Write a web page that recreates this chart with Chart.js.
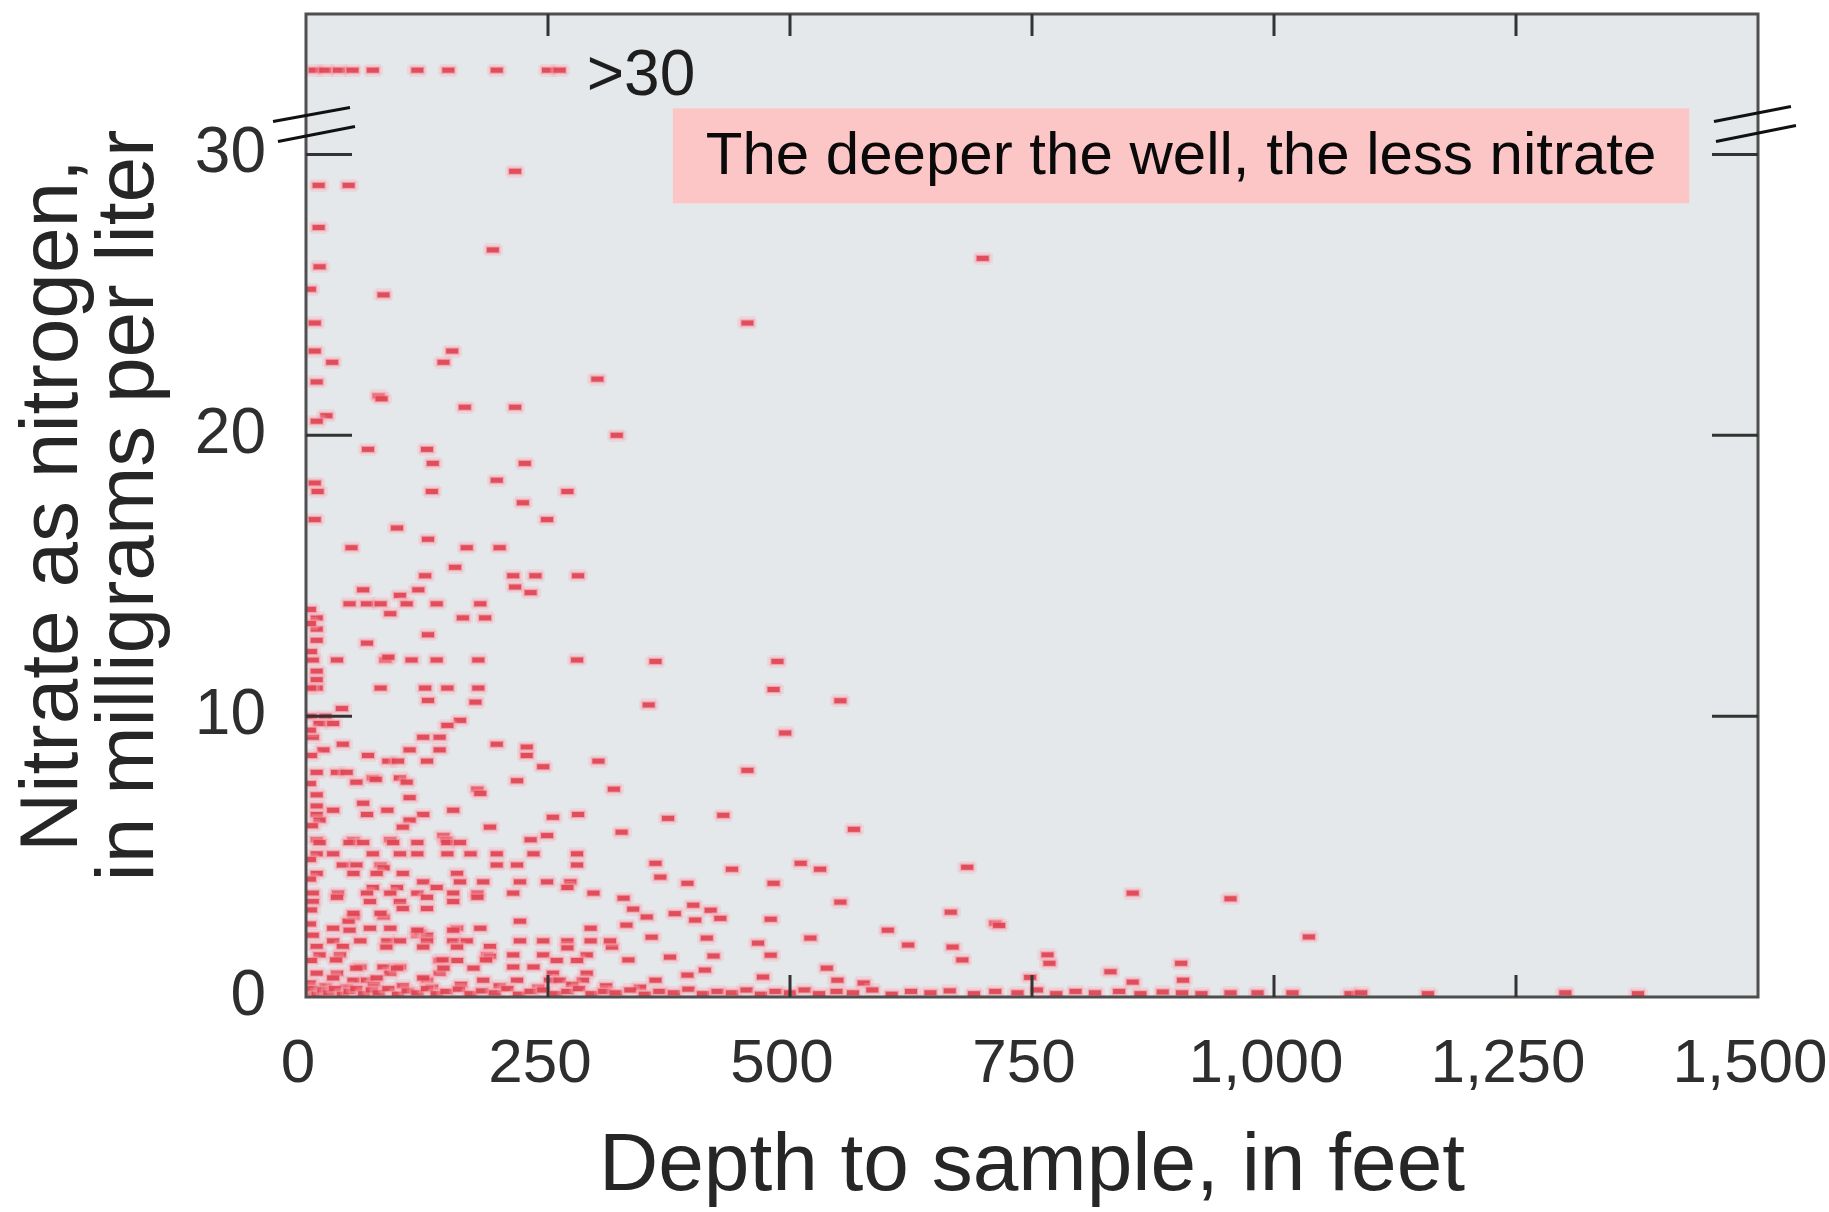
<!DOCTYPE html>
<html>
<head>
<meta charset="utf-8">
<script src="https://cdn.jsdelivr.net/npm/chart.js@4.4.1/dist/chart.umd.min.js"></script>
<style>
html,body{margin:0;padding:0;background:#ffffff;}
canvas{display:block;}
</style>
</head>
<body>
<canvas id="chart" width="1829" height="1212" style="width:1829px;height:1212px"></canvas>
<script>
// ---------- DATA ----------
const xTickValues = [0, 250, 500, 750, 1000, 1250, 1500];
const yTickValues = [0, 10, 20, 30];
const xTitle = 'Depth to sample, in feet';
const yTitle = ['Nitrate as nitrogen,', 'in milligrams per liter'];
const annotationText = 'The deeper the well, the less nitrate';
const over30Label = '>30';
const over30PlotValue = 33;           // where the ">30" samples are plotted
const axisBreakValue = 31.1;          // position of the axis break marks
// depths (ft) of wells with nitrate above 30 mg/L
const over30Depths = [9, 20, 34, 48, 69, 115, 147, 197, 250, 262];

// [depth ft, nitrate mg/L]
const upperWells = [
  [216,29.4],[13,28.9],[44,28.9],[13,27.4],[193,26.6],[14,26.0],[699,26.3],[80,25.0],[4,25.2],
  [9,24.0],[456,24.0],[9,23.0],[27,22.6],[151,23.0],[142,22.6],[301,22.0],[11,21.9],[75,21.4],
  [78,21.3],[164,21.0],[216,21.0],[21,20.7],[11,20.5],[321,20.0],[64,19.5],[125,19.5],[131,19.0],
  [226,19.0],[197,18.4],[9,18.3],[12,18.0],[130,18.0],[270,18.0],[224,17.6],[249,17.0],[9,17.0],
  [94,16.7],[126,16.3],[47,16.0],[166,16.0],[200,16.0],[154,15.3],[123,15.0],[214,15.0],[237,15.0],
  [281,15.0],[216,14.6],[59,14.5],[116,14.5],[232,14.4],[97,14.3]
];
const middleWells = [
  [45,14.0],[63,14.0],[77,14.0],[104,14.0],[135,14.0],[180,14.0],[87,13.65],[162,13.5],[185,13.5],
  [11,13.5],[11,13.1],[11,12.7],[126,12.9],[63,12.6],[7,12.0],[32,12.0],[82,12.0],[85,12.1],
  [109,12.0],[135,12.0],[178,12.0],[280,12.0],[11,11.6],[11,11.3],[11,11.0],[4,11.0],[77,11.0],
  [123,11.0],[146,11.0],[178,11.0],[126,10.56],[175,10.5],[37,10.27],[5,10.0],[20,10.0],[14,9.74],
  [28,9.74],[159,9.85],[146,9.67],[7,9.25],[121,9.25],[138,9.25],[197,9.0],[38,9.0],[18,8.8],
  [107,8.8],[138,8.8],[228,8.9],[228,8.6],[64,8.6],[85,8.4],[95,8.4],[125,8.4],[302,8.4],[245,8.2],
  [11,8.0],[32,8.0],[42,8.0],[69,7.8],[72,7.75],[97,7.8],[52,7.65],[104,7.65],[218,7.7],[177,7.4],
  [318,7.4],[180,7.25],[107,7.1],[59,6.9],[11,7.2],[11,6.8],[11,6.5],[152,6.65],[28,6.65],[84,6.65],
  [63,6.5],[121,6.5],[255,6.4],[281,6.5],[107,6.3],[14,6.3],[100,6.05],[190,6.05],[142,5.75],
  [145,5.6],[249,5.75],[232,5.6],[49,5.6],[87,5.6],[11,5.6],
  [4,13.8],[4,13.3],[5,12.3],[4,9.5],[5,8.6],[4,7.6],[6,6.1]
];
const deeperWells = [
  [361,11.95],[487,11.95],[483,10.95],[354,10.4],[552,10.55],[495,9.4],[456,8.07],[374,6.36],
  [431,6.47],[326,5.87],[566,5.97],[361,4.76],[366,4.27],[394,4.05],[440,4.55],[511,4.76],
  [531,4.55],[483,4.05],[683,4.62],[328,3.52],[338,3.13],[352,2.85],[331,2.56],[381,2.97],
  [400,3.27],[402,2.74],[418,3.09],[428,2.8],[480,2.77],[552,3.38],[666,3.02],[712,2.63],
  [716,2.55],[601,2.38],[521,2.1],[622,1.85],[668,1.78],[678,1.32],[316,1.78],[357,2.13],
  [414,2.1],[333,1.32],[376,1.42],[421,1.46],[467,1.92],[480,1.49],[394,0.78],[412,0.96],
  [538,1.03],[549,0.6],[472,0.71],[361,0.6],[576,0.5],
  [854,3.7],[955,3.5],[1036,2.14],[766,1.5],[768,1.2],[831,0.9],[904,1.2],[906,0.6],[854,0.53],[748,0.7]
];
const lowerWells = [
  [14,5.5],[45,5.5],[59,5.5],[90,5.5],[115,5.5],[146,5.5],[159,5.5],
  [11,5.1],[28,5.1],[69,5.1],[97,5.1],[115,5.1],[146,5.1],[170,5.1],[197,5.1],[235,5.1],[280,5.1],
  [38,4.7],[52,4.7],[77,4.7],[80,4.6],[197,4.7],[218,4.7],[280,4.7],
  [11,4.4],[49,4.4],[73,4.4],[100,4.4],[156,4.4],
  [121,4.1],[159,4.1],[183,4.1],[221,4.1],[249,4.1],[273,4.1],
  [69,3.9],[94,3.9],[135,3.9],[270,3.9],
  [7,3.7],[33,3.7],[63,3.7],[87,3.7],[115,3.7],[152,3.7],[177,3.7],[214,3.7],[297,3.7],
  [7,3.4],[66,3.4],[97,3.4],[152,3.4],[100,3.15],[125,3.15],[49,2.85],[80,2.85],[221,2.7],[44,2.7],
  [28,2.45],[66,2.45],[87,2.45],[156,2.45],[180,2.45],[294,2.45],
  [7,2.2],[115,2.2],[118,2.3],[125,2.2],
  [28,2.0],[56,2.0],[84,2.0],[97,2.0],[125,2.0],[152,2.0],[166,2.0],[221,2.0],[245,2.0],[270,2.0],[294,2.0],[314,2.0],
  [11,1.8],[38,1.8],[190,1.8],[270,1.75],
  [14,1.5],[35,1.5],[187,1.5],[190,1.45],[214,1.5],[245,1.5],[290,1.5],
  [138,1.3],[156,1.3],[259,1.3],[280,1.3],
  [56,1.07],[80,1.07],[97,1.07],[214,1.07],[235,1.07],
  [11,0.85],[32,0.85],[87,0.85],[138,0.85],[255,0.85],[290,0.85],
  [49,0.6],[63,0.6],[125,0.6],[183,0.6],[218,0.6],[252,0.6],[262,0.6],[286,0.6],
  [4,4.9],[4,4.2],[5,3.1],[4,2.6],[5,1.3],[4,0.5],
  [20,0.4],[42,0.35],[70,0.45],[100,0.4],[130,0.35],[160,0.45],[200,0.4],[240,0.35],[275,0.45],[310,0.4],[345,0.35]
];
const shallowCluster = [
  [32,3.55],[125,3.55],[177,3.55],[49,2.98],[77,2.98],[45,2.38],[115,2.38],[152,2.38],[83,1.78],
  [121,1.78],[156,1.78],[31,1.32],[141,1.32],[186,1.32],[52,1.03],[94,1.03],[142,1.03],[173,1.03],
  [28,0.68],[73,0.68],[121,0.68]
];
// samples with almost no nitrate, along the bottom of the plot
const nearZeroWells = [
  [2,0.15],[6,0.3],[12,0.1],[18,0.25],[24,0.15],[30,0.3],[38,0.1],[45,0.2],[52,0.3],[60,0.12],
  [68,0.25],[75,0.15],[85,0.3],[95,0.1],[105,0.22],[115,0.15],[125,0.3],[135,0.12],[145,0.2],
  [158,0.28],[170,0.12],[182,0.22],[195,0.15],[208,0.3],[220,0.1],[232,0.2],[245,0.25],[258,0.12],
  [270,0.2],[282,0.3],[295,0.12],[308,0.2],[320,0.15],[335,0.25],[350,0.1],[365,0.2],[380,0.15],
  [395,0.28],[410,0.12],[425,0.2],[440,0.15],[455,0.25],[470,0.1],[485,0.2],[500,0.15],[515,0.25],
  [530,0.12],[548,0.2],[565,0.15],[585,0.25],[605,0.1],[625,0.2],[645,0.15],[665,0.22],[690,0.12],
  [712,0.2],[735,0.15],[755,0.25],[775,0.12],[795,0.2],[815,0.15],[840,0.2],[862,0.12],[885,0.18],
  [905,0.15],[925,0.12],[955,0.15],[983,0.15],[1019,0.15],[1079,0.12],[1090,0.15],[1159,0.12],
  [1301,0.15],[1376,0.12]
];

// ---------- STYLE ----------
const FONT = '"Liberation Sans", Arial, Helvetica, sans-serif';
const PLOT_BG = '#e5e8ea';

function makeDash() {
  const c = document.createElement('canvas');
  c.width = 20; c.height = 13;
  const g = c.getContext('2d');
  g.fillStyle = 'rgba(248,170,178,0.28)';
  g.fillRect(2, 0, 16, 13);
  g.fillRect(0, 2, 20, 9);
  g.fillStyle = 'rgba(238,120,135,0.45)';
  g.fillRect(3, 3, 14, 7);
  g.fillStyle = 'rgba(222,58,72,0.82)';
  g.fillRect(4, 4, 12, 5);
  return c;
}
const dashMark = makeDash();

const toPoints = arr => arr.map(([x, y]) => ({x, y}));
const allWells = [].concat(upperWells, middleWells, deeperWells, lowerWells, shallowCluster, nearZeroWells);

const backgroundPlugin = {
  id: 'plotBackground',
  beforeDraw(chart) {
    const {ctx, chartArea: a} = chart;
    ctx.save();
    ctx.fillStyle = '#ffffff';
    ctx.fillRect(0, 0, chart.width, chart.height);
    ctx.fillStyle = PLOT_BG;
    ctx.fillRect(a.left, a.top, a.right - a.left, a.bottom - a.top);
    ctx.restore();
  }
};

function seg(ctx, x1, y1, x2, y2) {
  ctx.beginPath(); ctx.moveTo(x1, y1); ctx.lineTo(x2, y2); ctx.stroke();
}

const framePlugin = {
  id: 'frameAndTicks',
  afterDatasetsDraw(chart) {
    const {ctx, chartArea: a, scales: {x, y}} = chart;
    ctx.save();
    ctx.strokeStyle = '#4f4f4f';
    ctx.lineWidth = 3;
    ctx.strokeRect(a.left, a.top, a.right - a.left, a.bottom - a.top);
    ctx.strokeStyle = '#333333';
    ctx.lineWidth = 3;
    xTickValues.forEach(v => {
      if (v <= x.min || v >= x.max) return;
      const px = x.getPixelForValue(v);
      seg(ctx, px, a.top, px, a.top + 22);
      seg(ctx, px, a.bottom, px, a.bottom - 22);
    });
    yTickValues.forEach(v => {
      if (v <= y.min) return;
      const py = y.getPixelForValue(v);
      seg(ctx, a.left, py, a.left + 46, py);
      seg(ctx, a.right, py, a.right - 46, py);
    });
    // axis break marks
    const yb = y.getPixelForValue(axisBreakValue);
    ctx.strokeStyle = '#111111';
    ctx.lineWidth = 3;
    seg(ctx, a.left - 33, yb - 2, a.left + 44, yb - 16);
    seg(ctx, a.left - 28, yb + 18, a.left + 49, yb + 3);
    seg(ctx, a.right - 44, yb - 2, a.right + 33, yb - 17);
    seg(ctx, a.right - 42, yb + 18, a.right + 38, yb + 2);
    ctx.restore();
  }
};

const annotationPlugin = {
  id: 'annotations',
  afterDraw(chart) {
    const {ctx, scales: {x, y}} = chart;
    ctx.save();
    // ">30" label
    ctx.fillStyle = '#1e1e1e';
    ctx.font = '64px ' + FONT;
    ctx.textAlign = 'left';
    ctx.textBaseline = 'middle';
    ctx.fillText(over30Label, x.getPixelForValue(290), y.getPixelForValue(32.75));
    // pink note box
    const bx1 = x.getPixelForValue(379), bx2 = x.getPixelForValue(1429);
    const by1 = y.getPixelForValue(31.64), by2 = y.getPixelForValue(28.26);
    ctx.fillStyle = '#fcc6c6';
    ctx.fillRect(bx1, by1, bx2 - bx1, by2 - by1);
    ctx.fillStyle = '#0a0a0a';
    ctx.font = '60px ' + FONT;
    ctx.textAlign = 'center';
    ctx.fillText(annotationText, (bx1 + bx2) / 2, (by1 + by2) / 2 + 2);
    ctx.restore();
  }
};

new Chart(document.getElementById('chart'), {
  type: 'scatter',
  data: {
    datasets: [
      {
        label: 'Wells',
        data: toPoints(allWells),
        pointStyle: dashMark,
        pointRadius: 6,
        pointHoverRadius: 6
      },
      {
        label: 'Above 30 mg/L',
        data: over30Depths.map(d => ({x: d, y: over30PlotValue})),
        pointStyle: dashMark,
        pointRadius: 6,
        pointHoverRadius: 6
      }
    ]
  },
  options: {
    responsive: false,
    animation: false,
    devicePixelRatio: 1,
    layout: {padding: {left: 0, top: 14, right: 71, bottom: 4}},
    plugins: {legend: {display: false}, tooltip: {enabled: false}},
    scales: {
      x: {
        type: 'linear',
        min: 0,
        max: 1500,
        afterBuildTicks(s) { s.ticks = xTickValues.map(v => ({value: v})); },
        afterFit(s) { s.height = 211; s.paddingLeft = 0; s.paddingRight = 0; },
        grid: {display: false, drawTicks: false},
        border: {display: false},
        ticks: {
          autoSkip: false, maxRotation: 0, minRotation: 0, padding: 31, labelOffset: -8,
          color: '#2e2e2e', font: {family: FONT, size: 62},
          callback: v => Number(v).toLocaleString('en-US')
        },
        title: {
          display: true, text: xTitle, color: '#262626',
          font: {family: FONT, size: 82, lineHeight: 1},
          padding: {top: 0, bottom: 0}
        }
      },
      y: {
        type: 'linear',
        min: 0,
        max: 35,
        afterBuildTicks(s) { s.ticks = yTickValues.map(v => ({value: v})); },
        afterFit(s) { s.width = 306; s.paddingTop = 0; s.paddingBottom = 0; },
        grid: {display: false, drawTicks: false},
        border: {display: false},
        ticks: {
          autoSkip: false, padding: 40,
          color: '#2e2e2e', font: {family: FONT, size: 64}
        },
        title: {
          display: true, text: yTitle, color: '#262626',
          font: {family: FONT, size: 82, lineHeight: 0.93},
          padding: {top: 16, bottom: 0}
        }
      }
    }
  },
  plugins: [backgroundPlugin, framePlugin, annotationPlugin]
});
</script>
</body>
</html>
